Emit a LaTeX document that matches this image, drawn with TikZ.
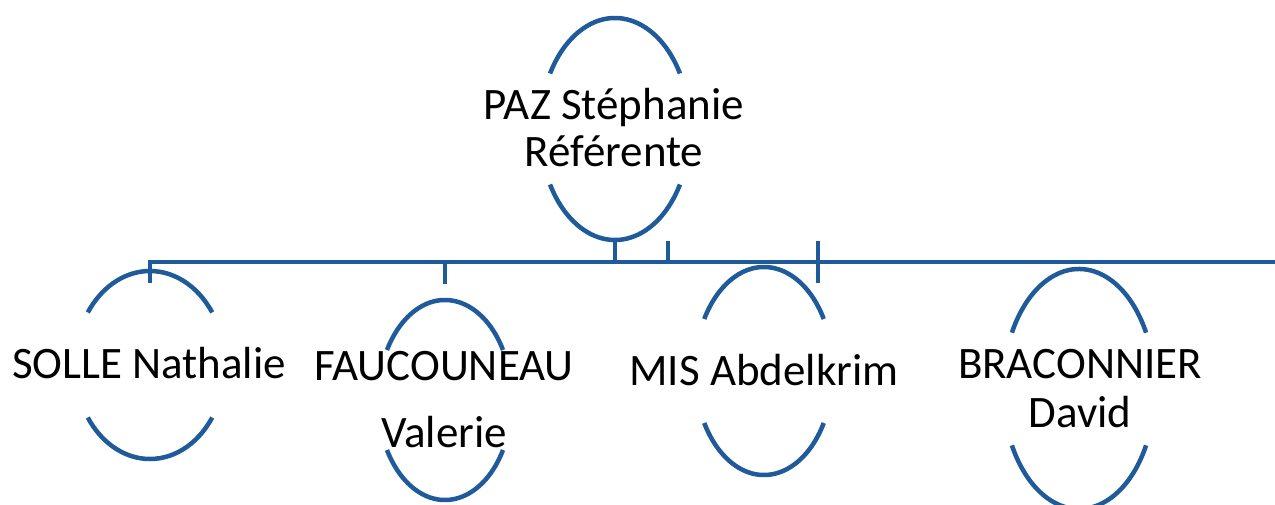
\documentclass[tikz,border=0pt]{standalone}
\usepackage{fontspec}
\setmainfont{Carlito}
\usetikzlibrary{calc}
\definecolor{orgblue}{RGB}{31,90,155}
\newcommand{\halves}[4]{%
  \draw[link] ($(#1)+(#4:#2 and #3)$) arc[start angle=#4,end angle=180-#4,x radius=#2,y radius=#3];
  \draw[link] ($(#1)+(-#4:#2 and #3)$) arc[start angle=-#4,end angle=#4-180,x radius=#2,y radius=#3];}

\begin{document}
\begin{tikzpicture}[x=1pt,y=-1pt,
    link/.style={orgblue,line width=4.5pt},
    who/.style={font=\fontsize{45}{48}\selectfont,align=center,anchor=base}]
    \useasboundingbox (0,0) rectangle (1275,505);

    \coordinate (PAZo) at (615,129);
    \coordinate (SOLLEo) at (150,365);
    \coordinate (FAUCo) at (445,400);
    \coordinate (MISo) at (764,371);
    \coordinate (BRACo) at (1079,389);

    \halves{PAZo}{75pt}{111pt}{30}
    \halves{SOLLEo}{75pt}{94pt}{34}
    \halves{FAUCo}{67pt}{100pt}{30}
    \halves{MISo}{69pt}{104pt}{30}
    \halves{BRACo}{76pt}{120pt}{28}

    \coordinate (L) at (148,262);
    \coordinate (R) at (1275,262);
    \coordinate (PAZb) at (615,240);
    \coordinate (PAZt) at (615,262);
    \coordinate (Xa) at (668,241);
    \coordinate (Xb) at (668,262);
    \coordinate (Ya) at (818,241);
    \coordinate (Yb) at (818,283);
    \coordinate (SOLLEt) at (150,262);
    \coordinate (SOLLEb) at (150,283);
    \coordinate (FAUCt) at (445,262);
    \coordinate (FAUCb) at (445,284);

    \draw[link] (L) -- (R);
    \draw[link] (PAZb) -- (PAZt)
    (Xa) -- (Xb)
    (Ya) -- (Yb)
    (SOLLEt) -- (SOLLEb)
    (FAUCt) -- (FAUCb);

    \node[who] (PAZ) at (614,167) {PAZ Stéphanie\\[-1pt]Référente};
    \node[who] (SOLLE) at (149,378) {SOLLE Nathalie};
    \node[who] (FAUC) at (444,447) {FAUCOUNEAU\\[19pt]Valerie};
    \node[who] (MIS) at (764,385) {MIS Abdelkrim};
    \node[who] (BRAC) at (1080,427) {BRACONNIER\\[1pt]David};
  \end{tikzpicture}
\end{document}
